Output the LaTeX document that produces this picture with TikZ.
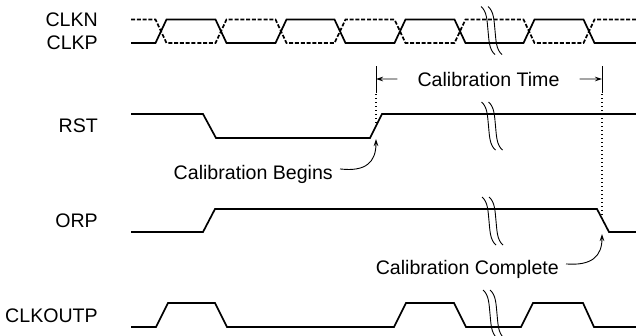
\documentclass[tikz,border=0pt]{standalone}
\usepackage{fontspec}
\setmainfont{Liberation Sans}
\usepackage{tikz}
\usetikzlibrary{arrows.meta}

\tikzset{
  wave/.style={line width=1.7pt, line join=miter},
  wavedash/.style={wave, dash pattern=on 4pt off 1.8pt},
  guide/.style={line width=1.4pt, dash pattern=on 1.4pt off 2.6pt},
  tick/.style={line width=1pt},
  callout/.style={line width=0.9pt, -{Stealth[length=7pt,width=4.5pt]}},
  sig/.style={anchor=base east, inner sep=0pt, font=\fontsize{19.6}{22}\selectfont},
  note/.style={inner sep=0pt, font=\fontsize{19.6}{22}\selectfont},
  cut/.pic={
    \draw [line width=0.9pt] (7,-24) .. controls (1,-19) and (1,-10) .. (0,0) .. controls (-1,10) and (-1,19) .. (-7,24);
    \draw [line width=0.9pt] (14,-24) .. controls (8,-19) and (8,-10) .. (7,0) .. controls (6,10) and (6,19) .. (0,24);
  }
}

\begin{document}
\begin{tikzpicture}[x=1pt,y=1pt,yscale=-1]
\useasboundingbox (0,0) rectangle (636,335);
%CLKN / CLKP
\draw [wavedash] (131,19.5) -- (155.5,19.5) -- (166.5,43) -- (215.5,43) -- (226.5,19.5) -- (275.5,19.5) -- (286.5,43) -- (334.5,43) -- (345.5,19.5) -- (394.5,19.5) -- (405.5,43) -- (454.5,43) -- (465.5,19.5) -- (523.5,19.5) -- (534.5,43) -- (583.5,43) -- (594.5,19.5) -- (636,19.5);
\draw [wave] (131,43) -- (155.5,43) -- (166.5,19.5) -- (215.5,19.5) -- (226.5,43) -- (275.5,43) -- (286.5,19.5) -- (334.5,19.5) -- (345.5,43) -- (394.5,43) -- (405.5,19.5) -- (454.5,19.5) -- (465.5,43) -- (523.5,43) -- (534.5,19.5) -- (583.5,19.5) -- (594.5,43) -- (636,43);
%RST
\draw [wave] (131,114) -- (203,114) -- (216,138) -- (370,138) -- (382,114) -- (636,114);
%ORP
\draw [wave] (131,232) -- (203,232) -- (215,209) -- (597,209) -- (609,232) -- (636,232);
%CLKOUTP
\draw [wave] (131,327) -- (156,327) -- (168,303) -- (215,303) -- (227,327) -- (394,327) -- (406,303) -- (454,303) -- (466,327) -- (521,327) -- (533,303) -- (583,303) -- (594,327) -- (636,327);
%Breaks
\pic at (488,30.5) {cut};
\pic at (488.5,126) {cut};
\pic at (489,221) {cut};
\pic at (490,314) {cut};
%Markers
\coordinate (rstup) at (376,139);
\coordinate (orpdn) at (602,234);
\coordinate (tl) at (376,79);
\coordinate (tr) at (602,79);
\draw [tick] (376,66) -- (376,93);
\draw [tick] (602,66) -- (602,93);
\draw [guide] (376,94) -- (376,123);
\draw [guide] (602,94) -- (602,219);
%Text
\draw (98,26.7) node (clkn) [sig] {CLKN};
\draw (98,49.3) node (clkp) [sig] {CLKP};
\draw (98,132) node (rst) [sig] {RST};
\draw (98,227) node (orp) [sig] {ORP};
\draw (98,322) node (clkoutp) [sig] {CLKOUTP};
\draw (488.5,86) node (caltime) [note, anchor=base] {Calibration Time};
\draw (333,179) node (calbegin) [note, anchor=base east] {Calibration Begins};
\draw (559,274) node (caldone) [note, anchor=base east] {Calibration Complete};
%Arrows
\draw [callout] ([xshift=-20pt]caltime.west) -- (tl);
\draw [callout] ([xshift=20pt]caltime.east) -- (tr);
\draw [callout] ([xshift=7pt,yshift=-5pt]calbegin.east) .. controls (366,172) and (376,162) .. (rstup);
\draw [callout] ([xshift=7pt,yshift=-5pt]caldone.east) .. controls (592,266) and (602,256) .. (orpdn);
\end{tikzpicture}
\end{document}
